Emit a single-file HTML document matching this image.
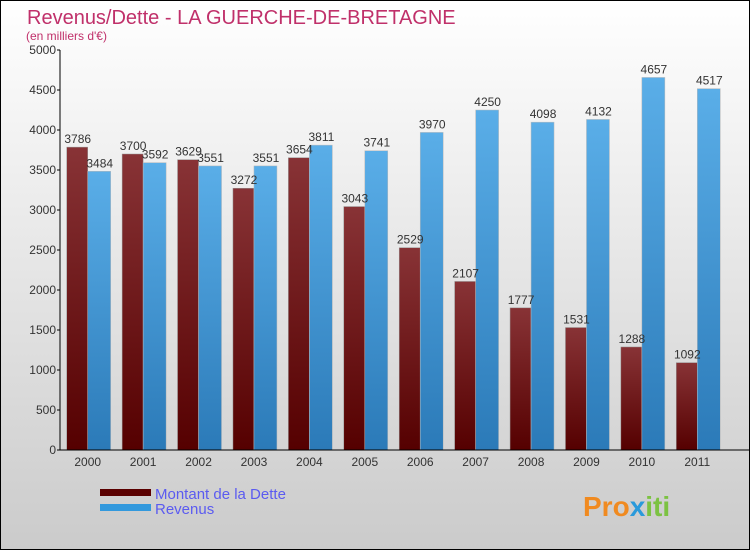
<!DOCTYPE html>
<html><head><meta charset="utf-8"><style>
body{margin:0;}
#c{width:750px;height:550px;position:relative;overflow:hidden;font-family:"Liberation Sans",sans-serif;}
</style></head><body>
<div id="c">
<svg id="s" width="750" height="550" xmlns="http://www.w3.org/2000/svg">
<defs>
<linearGradient id="bg" x1="0" y1="0" x2="0" y2="1"><stop offset="0" stop-color="#ffffff"/><stop offset="1" stop-color="#cbcbcb"/></linearGradient>
<linearGradient id="gd" x1="0" y1="0" x2="0" y2="1"><stop offset="0" stop-color="#883336"/><stop offset="1" stop-color="#550000"/></linearGradient>
<linearGradient id="gr" x1="0" y1="0" x2="0" y2="1"><stop offset="0" stop-color="#5aaee8"/><stop offset="1" stop-color="#2b7ab8"/></linearGradient>
</defs>
<rect x="0.5" y="0.5" width="749" height="549" fill="url(#bg)" stroke="#000"/>
<text x="27" y="24" font-size="20" fill="#c0306a">Revenus/Dette - LA GUERCHE-DE-BRETAGNE</text>
<text x="26" y="40" font-size="12" fill="#c0306a">(en milliers d'€)</text>
<g id="bars"></g>
<g id="axes"></g>
<rect x="100" y="489" width="51" height="7" fill="#5a0000"/>
<text x="155" y="499" font-size="15" fill="#5b5bf0">Montant de la Dette</text>
<rect x="100" y="504" width="51" height="7" fill="#3399dd"/>
<text x="155" y="514" font-size="15" fill="#5b5bf0">Revenus</text>
<text x="583" y="516" font-size="28" font-weight="bold" fill="#f08a20">Pro<tspan fill="#2a9adb">x</tspan><tspan fill="#7cc242">iti</tspan></text>
</svg>
</div>
<script>
const years=["2000","2001","2002","2003","2004","2005","2006","2007","2008","2009","2010","2011"];
const dette=[3786,3700,3629,3272,3654,3043,2529,2107,1777,1531,1288,1092];
const revenus=[3484,3592,3551,3551,3811,3741,3970,4250,4098,4132,4657,4517];
const yTicks=[0,500,1000,1500,2000,2500,3000,3500,4000,4500,5000];
const NS="http://www.w3.org/2000/svg";
const x0=60,x1=725,y0=450,yTop=50,yMax=5000;
const gw=(x1-x0)/years.length;
function y(v){return y0-(v/yMax)*(y0-yTop);}
function gx(i){return x0+gw*(i+0.5);}
function mk(tag,attrs,parent){const e=document.createElementNS(NS,tag);for(const k in attrs)e.setAttribute(k,attrs[k]);parent.appendChild(e);return e;}
const bars=document.getElementById('bars'),axes=document.getElementById('axes');
years.forEach((yr,i)=>{
  const c=gx(i);
  const b1=mk('rect',{x:c-21,y:y(dette[i]),width:21,height:y0-y(dette[i]),fill:'url(#gd)',stroke:'#999','stroke-width':0.5},bars);
  
  
  const b2=mk('rect',{x:c,y:y(revenus[i]),width:23,height:y0-y(revenus[i]),fill:'url(#gr)',stroke:'#bbb','stroke-width':0.5},bars);
  
  
  const t1=mk('text',{x:c-10,y:y(dette[i])-4,'font-size':12,fill:'#333','text-anchor':'middle'},bars);t1.textContent=dette[i];
  
  
  const t2=mk('text',{x:c+12,y:y(revenus[i])-4,'font-size':12,fill:'#333','text-anchor':'middle'},bars);t2.textContent=revenus[i];
  
  
  const xl=mk('text',{x:c,y:466,'font-size':12,fill:'#333','text-anchor':'middle'},axes);xl.textContent=yr;
  
  
});
yTicks.forEach(v=>{
  mk('line',{x1:x0-3,x2:x0,y1:y(v),y2:y(v),stroke:'#000'},axes);
  const t=mk('text',{x:x0-4,y:y(v)+4,'font-size':12,fill:'#333','text-anchor':'end'},axes);t.textContent=v;
  
  
});
const ya=mk('line',{x1:x0,x2:x0,y1:yTop,y2:y0,stroke:'#000'},axes);


const xa=mk('line',{x1:x0,x2:749,y1:y0,y2:y0,stroke:'#000'},axes);


</script>
</body></html>
